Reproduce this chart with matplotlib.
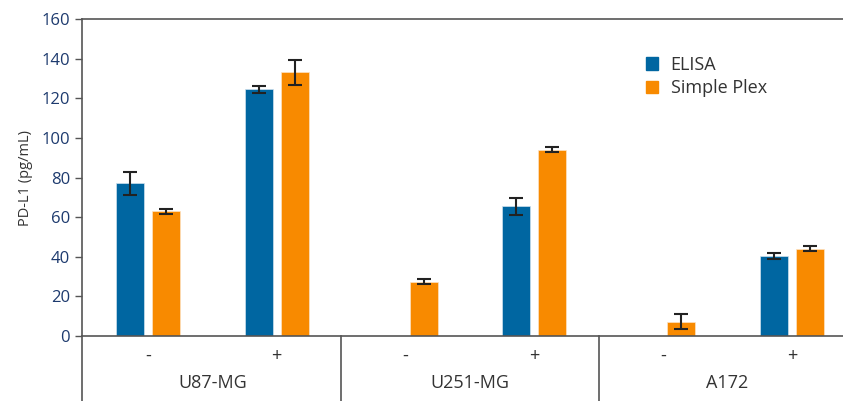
import numpy as np
import matplotlib
matplotlib.use("Agg")
import matplotlib.pyplot as plt
from matplotlib.lines import Line2D
from matplotlib.patches import Patch

plt.rcParams['font.family'] = ['Open Sans', 'DejaVu Sans']

grupos = ['U87-MG', 'U251-MG', 'A172']
tratamentos = ['-', '+', '-', '+', '-', '+']
elisa = [77, 124.5, 0, 65.5, 0, 40.5]
elisa_err = [6, 1.7, 0, 4.3, 0, 1.4]
simple_plex = [63, 133, 27.5, 94, 7.3, 44]
simple_plex_err = [1.2, 6.5, 1.3, 1.3, 3.7, 1.3]

azul = '#0066a1'
laranja = '#f88a00'
cor_tick = '#1d3a6e'
cor_texto = '#333333'
cor_linha = '#555555'

fig = plt.figure(figsize=(8.43, 4.01), dpi=100)
ax = fig.add_axes([82/843, 65/401, 1 - 82/843, (336 - 19)/401])

x = np.arange(len(tratamentos))
largura = 0.217
desloc = 0.14

for i in range(len(x)):
    if elisa[i] > 0:
        ax.bar(x[i] - desloc, elisa[i], largura, color=azul, edgecolor='#cfe0ee', linewidth=0.5)
        ax.errorbar(x[i] - desloc, elisa[i], yerr=elisa_err[i], fmt='none',
                    ecolor='#222222', elinewidth=1.5, capsize=5, capthick=1.5)
    ax.bar(x[i] + desloc, simple_plex[i], largura, color=laranja, edgecolor='#fde3c4', linewidth=0.5)
    ax.errorbar(x[i] + desloc, simple_plex[i], yerr=simple_plex_err[i], fmt='none',
                ecolor='#222222', elinewidth=1.5, capsize=5, capthick=1.5)

ax.set_xlim(-0.512, 5.396)
ax.set_ylim(0, 160)
ax.set_yticks(range(0, 161, 20))
ax.tick_params(axis='y', colors=cor_linha, labelcolor=cor_tick, labelsize=12,
               length=5, width=1, direction='out')
ax.set_xticks(x)
ax.set_xticklabels(tratamentos, fontsize=13, color=cor_texto)
ax.tick_params(axis='x', length=0, pad=8)
ax.set_ylabel('PD-L1 (pg/mL)', fontsize=10.5, color=cor_texto, labelpad=6)

for lado in ['top', 'left', 'bottom']:
    ax.spines[lado].set_color(cor_linha)
    ax.spines[lado].set_linewidth(1.2)
ax.spines['right'].set_visible(False)

# separadores dos grupos abaixo do eixo
y_fundo = -65/317
for xs in [-0.512, 1.5, 3.5]:
    ax.add_line(Line2D([xs, xs], [0, y_fundo], transform=ax.get_xaxis_transform(),
                       color=cor_linha, linewidth=1.2, clip_on=False))

for j, nome in enumerate(grupos):
    ax.text(2*j + 0.5, -0.148, nome, transform=ax.get_xaxis_transform(),
            ha='center', va='center', fontsize=13, color=cor_texto)

handles = [Patch(color=azul, label='ELISA'), Patch(color=laranja, label='Simple Plex')]
leg = ax.legend(handles=handles, loc='upper left', bbox_to_anchor=(0.72, 0.935),
                frameon=False, fontsize=13, handlelength=0.65, handleheight=0.65,
                handletextpad=0.7, labelspacing=0.3)
for t in leg.get_texts():
    t.set_color(cor_texto)

fig.savefig('out.png', dpi=100)
